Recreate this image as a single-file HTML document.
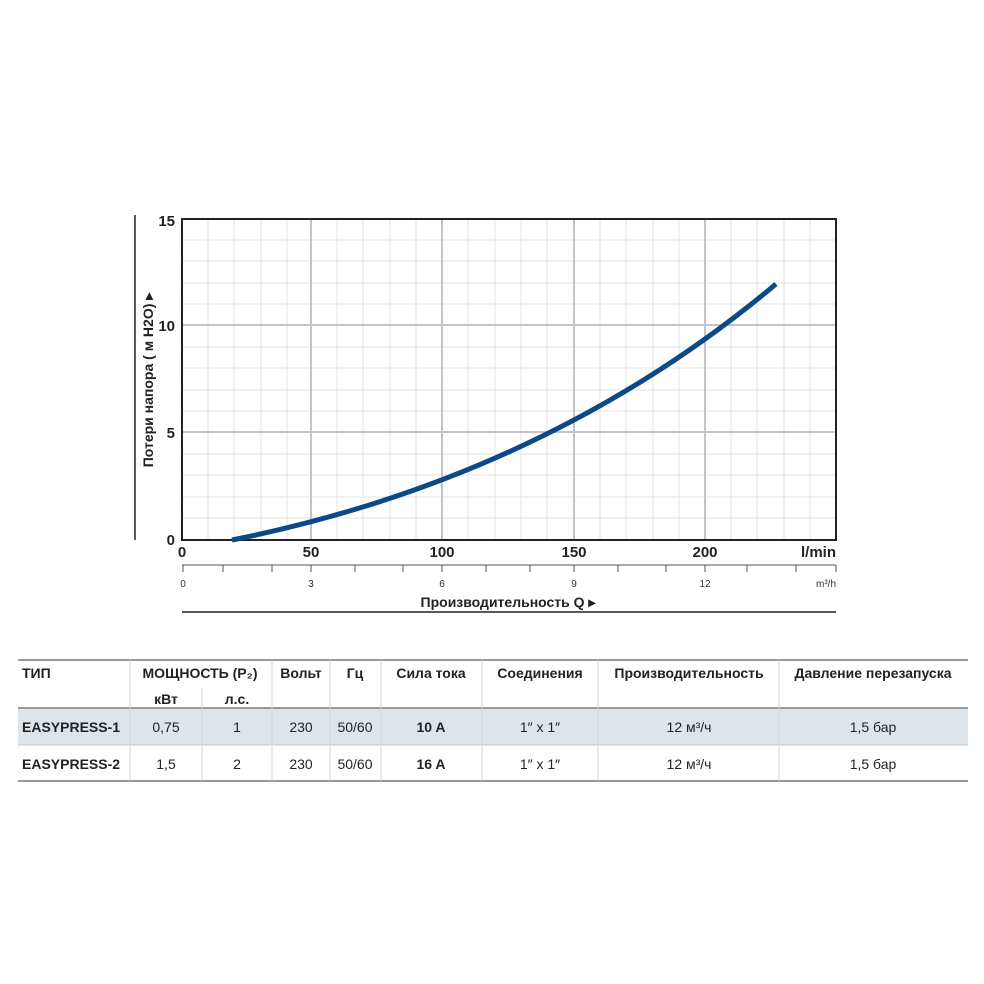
<!DOCTYPE html>
<html><head><meta charset="utf-8"><style>
body{margin:0;background:#fff;width:984px;height:984px;overflow:hidden;font-family:"Liberation Sans",sans-serif}
svg{position:absolute;left:0;top:0}
</style></head><body>
<svg width="984" height="984" viewBox="0 0 984 984" xmlns="http://www.w3.org/2000/svg">
<g stroke="#e3e3e3" stroke-width="1">
<line x1="208" y1="219" x2="208" y2="540"/><line x1="234" y1="219" x2="234" y2="540"/><line x1="261" y1="219" x2="261" y2="540"/><line x1="287" y1="219" x2="287" y2="540"/>
<line x1="337" y1="219" x2="337" y2="540"/><line x1="363" y1="219" x2="363" y2="540"/><line x1="390" y1="219" x2="390" y2="540"/><line x1="416" y1="219" x2="416" y2="540"/>
<line x1="468" y1="219" x2="468" y2="540"/><line x1="495" y1="219" x2="495" y2="540"/><line x1="521" y1="219" x2="521" y2="540"/><line x1="547" y1="219" x2="547" y2="540"/>
<line x1="600" y1="219" x2="600" y2="540"/><line x1="626" y1="219" x2="626" y2="540"/><line x1="653" y1="219" x2="653" y2="540"/><line x1="679" y1="219" x2="679" y2="540"/>
<line x1="731" y1="219" x2="731" y2="540"/><line x1="757" y1="219" x2="757" y2="540"/><line x1="784" y1="219" x2="784" y2="540"/><line x1="810" y1="219" x2="810" y2="540"/>
<line x1="182" y1="240" x2="836" y2="240"/><line x1="182" y1="261" x2="836" y2="261"/><line x1="182" y1="283" x2="836" y2="283"/><line x1="182" y1="304" x2="836" y2="304"/>
<line x1="182" y1="347" x2="836" y2="347"/><line x1="182" y1="368" x2="836" y2="368"/><line x1="182" y1="390" x2="836" y2="390"/><line x1="182" y1="411" x2="836" y2="411"/>
<line x1="182" y1="454" x2="836" y2="454"/><line x1="182" y1="475" x2="836" y2="475"/><line x1="182" y1="497" x2="836" y2="497"/><line x1="182" y1="518" x2="836" y2="518"/>
</g>
<g stroke="#c4c4c4" stroke-width="2">
<line x1="311" y1="219" x2="311" y2="540"/><line x1="442" y1="219" x2="442" y2="540"/><line x1="574" y1="219" x2="574" y2="540"/><line x1="705" y1="219" x2="705" y2="540"/>
<line x1="182" y1="325" x2="836" y2="325"/><line x1="182" y1="432" x2="836" y2="432"/>
</g>
<rect x="182" y="219" width="654" height="321" fill="none" stroke="#222" stroke-width="2"/>
<line x1="135" y1="215" x2="135" y2="540" stroke="#222" stroke-width="1.5"/>
<path d="M232,540 Q546,477 776,284" fill="none" stroke="#0b4a86" stroke-width="5"/>
<g font-weight="bold" font-size="15" fill="#222">
<text x="175" y="226" text-anchor="end">15</text><text x="175" y="331" text-anchor="end">10</text><text x="175" y="438" text-anchor="end">5</text><text x="175" y="545" text-anchor="end">0</text>
<text x="182" y="557" text-anchor="middle">0</text><text x="311" y="557" text-anchor="middle">50</text><text x="442" y="557" text-anchor="middle">100</text><text x="574" y="557" text-anchor="middle">150</text><text x="705" y="557" text-anchor="middle">200</text>
<text x="836" y="557" text-anchor="end">l/min</text>
</g>
<text transform="translate(153,380) rotate(-90)" text-anchor="middle" font-weight="bold" font-size="14" fill="#222">Потери напора ( м H2O) ▸</text>
<line x1="182" y1="565" x2="836" y2="565" stroke="#555" stroke-width="1"/>
<g stroke="#555" stroke-width="1">
<line x1="183" y1="565" x2="183" y2="572"/><line x1="223" y1="565" x2="223" y2="572"/><line x1="272" y1="565" x2="272" y2="572"/><line x1="311" y1="565" x2="311" y2="572"/><line x1="355" y1="565" x2="355" y2="572"/><line x1="403" y1="565" x2="403" y2="572"/><line x1="442" y1="565" x2="442" y2="572"/><line x1="486" y1="565" x2="486" y2="572"/><line x1="530" y1="565" x2="530" y2="572"/><line x1="574" y1="565" x2="574" y2="572"/><line x1="618" y1="565" x2="618" y2="572"/><line x1="666" y1="565" x2="666" y2="572"/><line x1="705" y1="565" x2="705" y2="572"/><line x1="747" y1="565" x2="747" y2="572"/><line x1="796" y1="565" x2="796" y2="572"/><line x1="836" y1="565" x2="836" y2="572"/>
</g>
<g font-size="10" fill="#333" text-anchor="middle">
<text x="183" y="587">0</text><text x="311" y="587">3</text><text x="442" y="587">6</text><text x="574" y="587">9</text><text x="705" y="587">12</text><text x="836" y="587" text-anchor="end">m³/h</text>
</g>
<text x="508" y="607" text-anchor="middle" font-weight="bold" font-size="14" fill="#222">Производительность Q ▸</text>
<line x1="182" y1="612" x2="836" y2="612" stroke="#222" stroke-width="1.5"/>
<rect x="18" y="708" width="950" height="37" fill="#dde4ea"/>
<g stroke="#999" stroke-width="2"><line x1="18" y1="660" x2="968" y2="660"/><line x1="18" y1="708" x2="968" y2="708"/><line x1="18" y1="781" x2="968" y2="781"/></g>
<line x1="18" y1="745" x2="968" y2="745" stroke="#c8c8c8" stroke-width="1"/>
<g stroke="#d6d6d6" stroke-width="1">
<line x1="130" y1="660" x2="130" y2="781"/><line x1="202" y1="688" x2="202" y2="781"/><line x1="272" y1="660" x2="272" y2="781"/><line x1="330" y1="660" x2="330" y2="781"/><line x1="381" y1="660" x2="381" y2="781"/><line x1="482" y1="660" x2="482" y2="781"/><line x1="598" y1="660" x2="598" y2="781"/><line x1="779" y1="660" x2="779" y2="781"/>
</g>
<g font-size="14" fill="#222" font-weight="bold">
<text x="22" y="678">ТИП</text>
<text x="200" y="678" text-anchor="middle">МОЩНОСТЬ (P₂)</text>
<text x="301" y="678" text-anchor="middle">Вольт</text>
<text x="355" y="678" text-anchor="middle">Гц</text>
<text x="431" y="678" text-anchor="middle">Сила тока</text>
<text x="540" y="678" text-anchor="middle">Соединения</text>
<text x="689" y="678" text-anchor="middle">Производительность</text>
<text x="873" y="678" text-anchor="middle">Давление перезапуска</text>
<text x="166" y="704" text-anchor="middle">кВт</text>
<text x="237" y="704" text-anchor="middle">л.с.</text>
<text x="22" y="732">EASYPRESS-1</text>
<text x="22" y="769">EASYPRESS-2</text>
<text x="431" y="732" text-anchor="middle">10 A</text>
<text x="431" y="769" text-anchor="middle">16 A</text>
</g>
<g font-size="14" fill="#222" text-anchor="middle">
<text x="166" y="732">0,75</text><text x="237" y="732">1</text><text x="301" y="732">230</text><text x="355" y="732">50/60</text><text x="540" y="732">1″ x 1″</text><text x="689" y="732">12 м³/ч</text><text x="873" y="732">1,5 бар</text>
<text x="166" y="769">1,5</text><text x="237" y="769">2</text><text x="301" y="769">230</text><text x="355" y="769">50/60</text><text x="540" y="769">1″ x 1″</text><text x="689" y="769">12 м³/ч</text><text x="873" y="769">1,5 бар</text>
</g>
</svg>
</body></html>
